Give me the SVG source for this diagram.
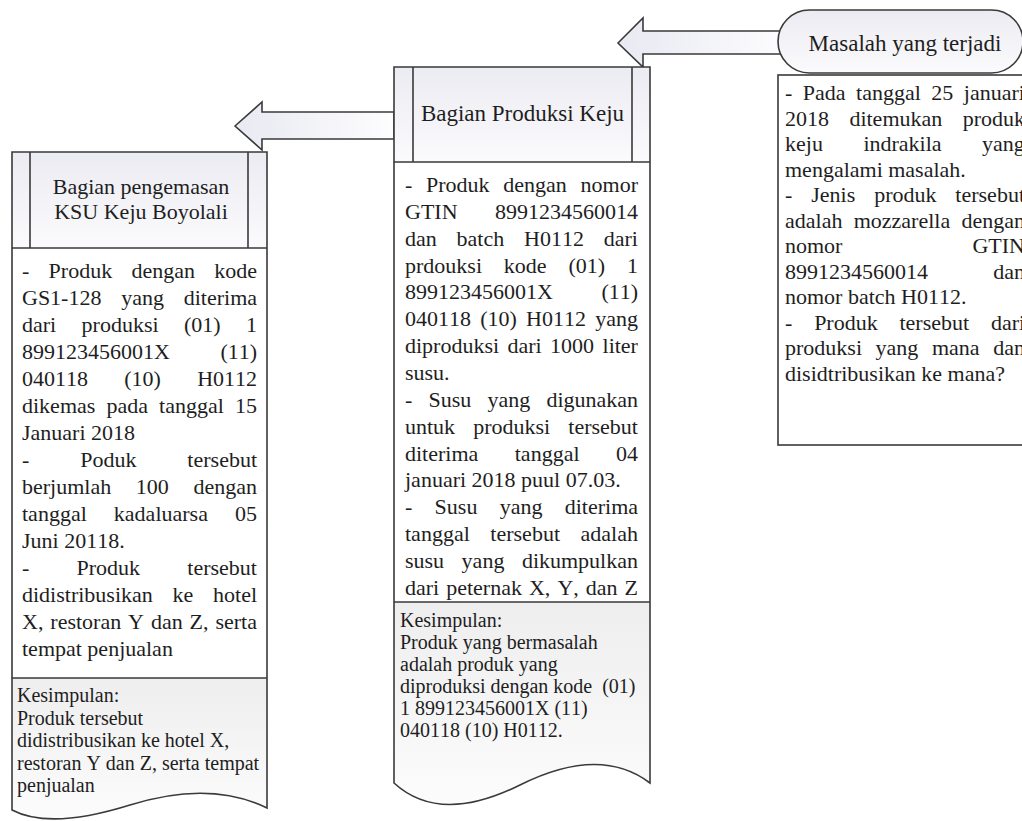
<svg xmlns="http://www.w3.org/2000/svg" width="1022" height="821" viewBox="0 0 1022 821">
<defs>
  <linearGradient id="gHead" x1="0" y1="0" x2="0" y2="1">
    <stop offset="0" stop-color="#ebebf2"/>
    <stop offset="1" stop-color="#fbfbfd"/>
  </linearGradient>
  <linearGradient id="gArrow" x1="0" y1="0" x2="1" y2="0">
    <stop offset="0" stop-color="#e8e9f2"/>
    <stop offset="1" stop-color="#fdfdfe"/>
  </linearGradient>
  <linearGradient id="gKes" x1="0" y1="0" x2="0" y2="1">
    <stop offset="0" stop-color="#eeeeef"/>
    <stop offset="1" stop-color="#fcfcfc"/>
  </linearGradient>
</defs>
<style>
  .ln{stroke:#3a3a3a;stroke-width:1.6;fill:none}
  .ol{stroke:#3a3a3a;stroke-width:1.6}
  .t{font-family:"Liberation Serif","Times New Roman",serif;fill:#1e1e1e;font-kerning:none}
  .b{font-size:22px}
  .k{font-size:20px}
  .h{font-size:23px}
  .hl{font-size:22px}
  .c{text-anchor:middle}
</style>
<rect width="1022" height="821" fill="#ffffff"/>

<g id="connectors">
  <polygon class="ol" fill="url(#gArrow)" points="618,43 643,18 643,31 790,31 790,54 643,54 643,67"/>
  <polygon class="ol" fill="url(#gArrow)" points="235,126 262,102 262,112 394,112 394,139 262,139 262,150"/>
</g>

<g id="node-masalah">
  <rect class="ol" fill="url(#gHead)" x="778" y="10" width="245" height="63" rx="31.5" ry="31.5"/>
  <text class="t h c" x="905" y="51">Masalah yang terjadi</text>
  <rect class="ol" fill="#ffffff" x="778" y="75" width="260" height="370"/>
  <g class="t b">
    <text x="785" y="100" style="word-spacing:5px">- Pada tanggal 25 januari</text>
    <text x="785" y="125.5" style="word-spacing:14.9px">2018 ditemukan produk</text>
    <text x="785" y="151" style="word-spacing:35px">keju indrakila yang</text>
    <text x="785" y="176.5">mengalami masalah.</text>
    <text x="785" y="202" style="word-spacing:13.4px">- Jenis produk tersebut</text>
    <text x="785" y="227.5" style="word-spacing:5.75px">adalah mozzarella dengan</text>
    <text x="785" y="253" style="word-spacing:124.5px">nomor GTIN</text>
    <text x="785" y="278.5" style="word-spacing:59.7px">8991234560014 dan</text>
    <text x="785" y="304">nomor batch H0112.</text>
    <text x="785" y="329.5" style="word-spacing:16.3px">- Produk tersebut dari</text>
    <text x="785" y="355" style="word-spacing:8.1px">produksi yang mana dan</text>
    <text x="785" y="380.5">disidtribusikan ke mana?</text>
  </g>
</g>

<g id="node-produksi">
  <rect fill="url(#gHead)" x="394" y="67" width="256" height="95"/>
  <rect fill="#ffffff" x="394" y="162" width="256" height="440"/>
  <path fill="url(#gKes)" d="M394,602 H650 V783 Q600,745 520,785 Q440,825 394,783 Z"/>
  <path class="ln" d="M394,67 H650 V783 Q600,745 520,785 Q440,825 394,783 Z"/>
  <path class="ln" d="M413,67 V162 M632,67 V162 M394,162 H650 M394,602 H650"/>
  <text class="t h c" x="522.5" y="121">Bagian Produksi Keju</text>
  <g class="t b">
    <text x="405" y="192" style="word-spacing:8.2px">- Produk dengan nomor</text>
    <text x="405" y="219" style="word-spacing:32px">GTIN 8991234560014</text>
    <text x="405" y="246" style="word-spacing:14.33px">dan batch H0112 dari</text>
    <text x="405" y="273" style="word-spacing:16.37px">prdouksi kode (01) 1</text>
    <text x="405" y="299" style="word-spacing:43px">899123456001X (11)</text>
    <text x="405" y="326" style="word-spacing:3.73px">040118 (10) H0112 yang</text>
    <text x="405" y="353" style="word-spacing:2.9px">diproduksi dari 1000 liter</text>
    <text x="405" y="380">susu.</text>
    <text x="405" y="407" style="word-spacing:10.67px">- Susu yang digunakan</text>
    <text x="405" y="434" style="word-spacing:12.6px">untuk produksi tersebut</text>
    <text x="405" y="461" style="word-spacing:30.95px">diterima tanggal 04</text>
    <text x="405" y="487">januari 2018 puul 07.03.</text>
    <text x="405" y="514" style="word-spacing:16.77px">- Susu yang diterima</text>
    <text x="405" y="541" style="word-spacing:15.1px">tanggal tersebut adalah</text>
    <text x="405" y="568" style="word-spacing:12px">susu yang dikumpulkan</text>
    <text x="405" y="595" style="word-spacing:1.52px">dari peternak X, Y, dan Z</text>
  </g>
  <g class="t k">
    <text x="400" y="627">Kesimpulan:</text>
    <text x="400" y="649">Produk yang bermasalah</text>
    <text x="400" y="671">adalah produk yang</text>
    <text x="400" y="693">diproduksi dengan kode&#160; (01)</text>
    <text x="400" y="715">1 899123456001X (11)</text>
    <text x="400" y="737">040118 (10) H0112.</text>
  </g>
</g>

<g id="node-pengemasan">
  <rect fill="url(#gHead)" x="12" y="152" width="255" height="96"/>
  <rect fill="#ffffff" x="12" y="248" width="255" height="430"/>
  <path fill="url(#gKes)" d="M12,678 H267 V808 Q210,780 130,805 Q50,830 12,810 Z"/>
  <path class="ln" d="M12,152 H267 V808 Q210,780 130,805 Q50,830 12,810 Z"/>
  <path class="ln" d="M30,152 V248 M248,152 V248 M12,248 H267 M12,678 H267"/>
  <text class="t hl c" x="141" y="194">Bagian pengemasan</text>
  <text class="t hl c" x="141" y="219">KSU Keju Boyolali</text>
  <g class="t b">
    <text x="22" y="278" style="word-spacing:13.77px">- Produk dengan kode</text>
    <text x="22" y="305" style="word-spacing:14.25px">GS1-128 yang diterima</text>
    <text x="22" y="332" style="word-spacing:19.87px">dari produksi (01) 1</text>
    <text x="22" y="359" style="word-spacing:45px">899123456001X (11)</text>
    <text x="22" y="386" style="word-spacing:30.75px">040118 (10) H0112</text>
    <text x="22" y="413" style="word-spacing:5.63px">dikemas pada tanggal 15</text>
    <text x="22" y="440">Januari 2018</text>
    <text x="22" y="467" style="word-spacing:45.4px">- Poduk tersebut</text>
    <text x="22" y="494" style="word-spacing:19.1px">berjumlah 100 dengan</text>
    <text x="22" y="521" style="word-spacing:21.6px">tanggal kadaluarsa 05</text>
    <text x="22" y="548">Juni 20118.</text>
    <text x="22" y="575" style="word-spacing:41.7px">- Produk tersebut</text>
    <text x="22" y="602" style="word-spacing:14.25px">didistribusikan ke hotel</text>
    <text x="22" y="629" style="word-spacing:1.42px">X, restoran Y dan Z, serta</text>
    <text x="22" y="656">tempat penjualan</text>
  </g>
  <g class="t k">
    <text x="17" y="702">Kesimpulan:</text>
    <text x="17" y="724.5">Produk tersebut</text>
    <text x="17" y="747">didistribusikan ke hotel X,</text>
    <text x="17" y="769.5">restoran Y dan Z, serta tempat</text>
    <text x="17" y="792">penjualan</text>
  </g>
</g>
</svg>
